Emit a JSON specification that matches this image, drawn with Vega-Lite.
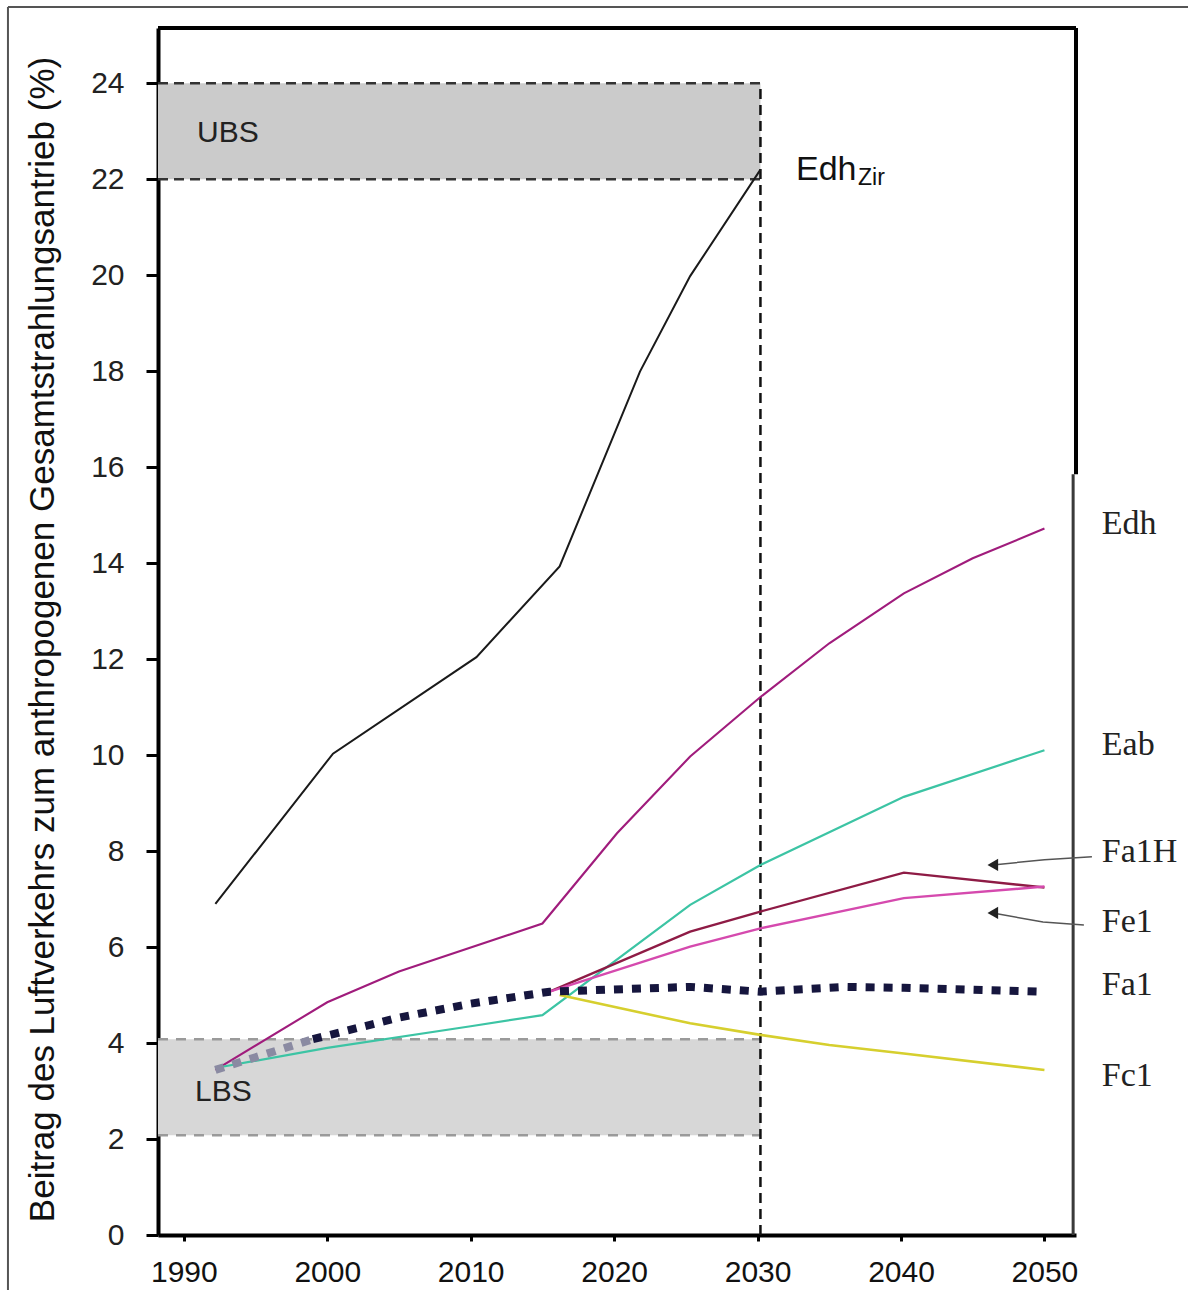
{
  "$schema": "https://vega.github.io/schema/vega-lite/v6.json",
  "width": 918,
  "height": 1207,
  "autosize": {"type": "none"},
  "padding": {"left": 158, "top": 28, "right": 112, "bottom": 55},
  "background": "white",
  "config": {"view": {"stroke": null}, "font": "Liberation Sans"},
  "datasets": {
    "series": [
      {"s": "Edh_Zir", "year": 1992.2, "v": 6.9},
      {"s": "Edh_Zir", "year": 2000.4, "v": 10.03},
      {"s": "Edh_Zir", "year": 2010.4, "v": 12.04},
      {"s": "Edh_Zir", "year": 2016.2, "v": 13.93},
      {"s": "Edh_Zir", "year": 2021.8, "v": 17.99},
      {"s": "Edh_Zir", "year": 2025.3, "v": 19.98},
      {"s": "Edh_Zir", "year": 2030.2, "v": 22.2},
      {"s": "Edh", "year": 1992.2, "v": 3.44},
      {"s": "Edh", "year": 2000.0, "v": 4.85},
      {"s": "Edh", "year": 2005.0, "v": 5.49},
      {"s": "Edh", "year": 2015.0, "v": 6.49},
      {"s": "Edh", "year": 2020.2, "v": 8.37},
      {"s": "Edh", "year": 2025.3, "v": 9.97},
      {"s": "Edh", "year": 2030.2, "v": 11.21},
      {"s": "Edh", "year": 2035.0, "v": 12.33},
      {"s": "Edh", "year": 2040.2, "v": 13.37},
      {"s": "Edh", "year": 2045.0, "v": 14.1},
      {"s": "Edh", "year": 2050.0, "v": 14.72},
      {"s": "Eab", "year": 1992.2, "v": 3.48},
      {"s": "Eab", "year": 2000.0, "v": 3.9},
      {"s": "Eab", "year": 2010.0, "v": 4.35},
      {"s": "Eab", "year": 2015.0, "v": 4.58},
      {"s": "Eab", "year": 2025.3, "v": 6.88},
      {"s": "Eab", "year": 2030.2, "v": 7.71},
      {"s": "Eab", "year": 2040.2, "v": 9.13},
      {"s": "Eab", "year": 2050.0, "v": 10.1},
      {"s": "Fa1H", "year": 2015.5, "v": 5.07},
      {"s": "Fa1H", "year": 2025.3, "v": 6.32},
      {"s": "Fa1H", "year": 2030.2, "v": 6.74},
      {"s": "Fa1H", "year": 2040.2, "v": 7.55},
      {"s": "Fa1H", "year": 2050.0, "v": 7.24},
      {"s": "Fe1", "year": 2015.5, "v": 5.07},
      {"s": "Fe1", "year": 2025.3, "v": 6.01},
      {"s": "Fe1", "year": 2030.2, "v": 6.39},
      {"s": "Fe1", "year": 2040.2, "v": 7.02},
      {"s": "Fe1", "year": 2050.0, "v": 7.26},
      {"s": "Fc1", "year": 2016.2, "v": 5.0},
      {"s": "Fc1", "year": 2025.3, "v": 4.41},
      {"s": "Fc1", "year": 2030.2, "v": 4.17},
      {"s": "Fc1", "year": 2035.0, "v": 3.96},
      {"s": "Fc1", "year": 2040.2, "v": 3.78},
      {"s": "Fc1", "year": 2050.0, "v": 3.44},
      {"s": "Fa1_LBS", "year": 1992.2, "v": 3.44},
      {"s": "Fa1_LBS", "year": 1999.0, "v": 4.08},
      {"s": "Fa1", "year": 1999.0, "v": 4.08},
      {"s": "Fa1", "year": 2005.0, "v": 4.53},
      {"s": "Fa1", "year": 2010.0, "v": 4.82},
      {"s": "Fa1", "year": 2015.5, "v": 5.07},
      {"s": "Fa1", "year": 2025.3, "v": 5.17},
      {"s": "Fa1", "year": 2030.2, "v": 5.07},
      {"s": "Fa1", "year": 2036.0, "v": 5.17},
      {"s": "Fa1", "year": 2040.2, "v": 5.15},
      {"s": "Fa1", "year": 2049.6, "v": 5.07}
    ]
  },
  "layer": [
    {
      "data": {"values": [
        {"band": "UBS", "x1": 1988.2, "x2": 2030.2, "y1": 22, "y2": 24}
      ]},
      "mark": {"type": "rect", "color": "#CBCBCB"},
      "encoding": {
        "x": {"field": "x1", "type": "quantitative", "scale": {"domain": [1988.2, 2052.2], "nice": false, "zero": false},
          "axis": {"values": [1990, 2000, 2010, 2020, 2030, 2040, 2050], "format": "d", "title": null, "grid": false,
            "labelFontSize": 30, "labelColor": "#111111", "labelFont": "Liberation Sans", "tickSize": 6, "tickWidth": 3, "tickColor": "#000000",
            "domainColor": "#000000", "domainWidth": 4, "labelPadding": 16, "labelFlush": false}},
        "x2": {"field": "x2"},
        "y": {"field": "y1", "type": "quantitative", "scale": {"domain": [0, 25.15], "nice": false, "zero": false},
          "axis": {"values": [0, 2, 4, 6, 8, 10, 12, 14, 16, 18, 20, 22, 24], "grid": false,
            "title": "Beitrag des Luftverkehrs zum anthropogenen Gesamtstrahlungsantrieb (%)",
            "titleFontSize": 35, "titleFontWeight": "normal", "titleColor": "#111111", "titleFont": "Liberation Sans",
            "titleX": -116, "titleY": 611, "titleAngle": -90, "titleAlign": "center", "titleBaseline": "middle",
            "labelFontSize": 30, "labelColor": "#222222", "labelFont": "Liberation Sans", "tickSize": 12, "tickWidth": 3, "tickColor": "#000000",
            "domainColor": "#000000", "domainWidth": 4, "labelPadding": 22, "labelFlush": false}},
        "y2": {"field": "y2"}
      }
    },
    {
      "data": {"values": [
        {"band": "LBS", "x1": 1988.2, "x2": 2030.2, "y1": 2.08, "y2": 4.08}
      ]},
      "mark": {"type": "rect", "color": "#D7D7D7"},
      "encoding": {
        "x": {"field": "x1", "type": "quantitative", "scale": {"domain": [1988.2, 2052.2], "nice": false, "zero": false}},
        "x2": {"field": "x2"},
        "y": {"field": "y1", "type": "quantitative", "scale": {"domain": [0, 25.15], "nice": false, "zero": false}},
        "y2": {"field": "y2"}
      }
    },
    {
      "data": {"values": [
        {"x1": 1988.2, "x2": 2030.2, "y1": 24, "y2": 24},
        {"x1": 1988.2, "x2": 2030.2, "y1": 22, "y2": 22}
      ]},
      "mark": {"type": "rule", "color": "#333333", "strokeWidth": 2.5, "strokeDash": [10, 6]},
      "encoding": {
        "x": {"field": "x1", "type": "quantitative", "scale": {"domain": [1988.2, 2052.2], "nice": false, "zero": false}},
        "x2": {"field": "x2"},
        "y": {"field": "y1", "type": "quantitative", "scale": {"domain": [0, 25.15], "nice": false, "zero": false}},
        "y2": {"field": "y2"}
      }
    },
    {
      "data": {"values": [
        {"x1": 1988.2, "x2": 2030.2, "y1": 4.08, "y2": 4.08},
        {"x1": 1988.2, "x2": 2030.2, "y1": 2.08, "y2": 2.08}
      ]},
      "mark": {"type": "rule", "color": "#9A9A9A", "strokeWidth": 2.5, "strokeDash": [10, 8]},
      "encoding": {
        "x": {"field": "x1", "type": "quantitative", "scale": {"domain": [1988.2, 2052.2], "nice": false, "zero": false}},
        "x2": {"field": "x2"},
        "y": {"field": "y1", "type": "quantitative", "scale": {"domain": [0, 25.15], "nice": false, "zero": false}},
        "y2": {"field": "y2"}
      }
    },
    {
      "data": {"values": [
        {"x1": 2030.2, "x2": 2030.2, "y1": 0, "y2": 24}
      ]},
      "mark": {"type": "rule", "color": "#111111", "strokeWidth": 2.5, "strokeDash": [10, 6]},
      "encoding": {
        "x": {"field": "x1", "type": "quantitative", "scale": {"domain": [1988.2, 2052.2], "nice": false, "zero": false}},
        "x2": {"field": "x2"},
        "y": {"field": "y1", "type": "quantitative", "scale": {"domain": [0, 25.15], "nice": false, "zero": false}},
        "y2": {"field": "y2"}
      }
    },
    {
      "data": {"name": "series"},
      "transform": [{"filter": "datum.s !== 'Fa1' && datum.s !== 'Fa1_LBS'"}],
      "mark": {"type": "line"},
      "encoding": {
        "x": {"field": "year", "type": "quantitative", "scale": {"domain": [1988.2, 2052.2], "nice": false, "zero": false}},
        "y": {"field": "v", "type": "quantitative", "scale": {"domain": [0, 25.15], "nice": false, "zero": false}},
        "color": {"field": "s", "type": "nominal", "legend": null,
          "scale": {"domain": ["Edh_Zir", "Edh", "Eab", "Fa1H", "Fe1", "Fc1", "Fa1", "Fa1_LBS"],
                    "range": ["#1A1A1A", "#A01C7C", "#3CC4A4", "#8E1B45", "#D54AAE", "#D6CF2E", "#16163E", "#8A8AA2"]}},
        "strokeWidth": {"field": "s", "type": "nominal", "legend": null,
          "scale": {"domain": ["Edh_Zir", "Edh", "Eab", "Fa1H", "Fe1", "Fc1", "Fa1", "Fa1_LBS"],
                    "range": [2, 2.8, 2.2, 3, 2.2, 2.2, 8, 8]}}
      }
    },
    {
      "data": {"name": "series"},
      "transform": [{"filter": "datum.s === 'Fa1' || datum.s === 'Fa1_LBS'"}],
      "mark": {"type": "line", "strokeDash": [9, 9], "strokeWidth": 8},
      "encoding": {
        "x": {"field": "year", "type": "quantitative", "scale": {"domain": [1988.2, 2052.2], "nice": false, "zero": false}},
        "y": {"field": "v", "type": "quantitative", "scale": {"domain": [0, 25.15], "nice": false, "zero": false}},
        "color": {"field": "s", "type": "nominal", "legend": null,
          "scale": {"domain": ["Edh_Zir", "Edh", "Eab", "Fa1H", "Fe1", "Fc1", "Fa1", "Fa1_LBS"],
                    "range": ["#1A1A1A", "#A01C7C", "#3CC4A4", "#8E1B45", "#D54AAE", "#D6CF2E", "#16163E", "#8A8AA2"]}}
      }
    },
    {
      "data": {"values": [
        {"x1": 1988.2, "x2": 2052.2, "y1": 25.15, "y2": 25.15},
        {"x1": 2052.2, "x2": 2052.2, "y1": 15.85, "y2": 25.15}
      ]},
      "mark": {"type": "rule", "color": "#000000", "strokeWidth": 4},
      "encoding": {
        "x": {"field": "x1", "type": "quantitative", "scale": {"domain": [1988.2, 2052.2], "nice": false, "zero": false}},
        "x2": {"field": "x2"},
        "y": {"field": "y1", "type": "quantitative", "scale": {"domain": [0, 25.15], "nice": false, "zero": false}},
        "y2": {"field": "y2"}
      }
    },
    {
      "data": {"values": [
        {"x1": 2052.0, "x2": 2052.0, "y1": 0, "y2": 15.85}
      ]},
      "mark": {"type": "rule", "color": "#3A3A3A", "strokeWidth": 3},
      "encoding": {
        "x": {"field": "x1", "type": "quantitative", "scale": {"domain": [1988.2, 2052.2], "nice": false, "zero": false}},
        "x2": {"field": "x2"},
        "y": {"field": "y1", "type": "quantitative", "scale": {"domain": [0, 25.15], "nice": false, "zero": false}},
        "y2": {"field": "y2"}
      }
    },
    {
      "data": {"values": [
        {"x1": 1977.74, "x2": 1977.74, "y1": -1.2, "y2": 25.59},
        {"x1": 1977.74, "x2": 2060.2, "y1": 25.59, "y2": 25.59}
      ]},
      "mark": {"type": "rule", "color": "#555555", "strokeWidth": 2},
      "encoding": {
        "x": {"field": "x1", "type": "quantitative", "scale": {"domain": [1988.2, 2052.2], "nice": false, "zero": false}},
        "x2": {"field": "x2"},
        "y": {"field": "y1", "type": "quantitative", "scale": {"domain": [0, 25.15], "nice": false, "zero": false}},
        "y2": {"field": "y2"}
      }
    },
    {
      "data": {"values": [
        {"arrow": "Fa1H", "x": 2053.31, "y": 7.88, "o": 0},
        {"arrow": "Fa1H", "x": 2050.0, "y": 7.82, "o": 1},
        {"arrow": "Fa1H", "x": 2046.4, "y": 7.71, "o": 2},
        {"arrow": "Fe1", "x": 2052.75, "y": 6.46, "o": 0},
        {"arrow": "Fe1", "x": 2049.9, "y": 6.52, "o": 1},
        {"arrow": "Fe1", "x": 2046.4, "y": 6.71, "o": 2}
      ]},
      "mark": {"type": "line", "color": "#555555", "strokeWidth": 1.5},
      "encoding": {
        "x": {"field": "x", "type": "quantitative", "scale": {"domain": [1988.2, 2052.2], "nice": false, "zero": false}},
        "y": {"field": "y", "type": "quantitative", "scale": {"domain": [0, 25.15], "nice": false, "zero": false}},
        "detail": {"field": "arrow", "type": "nominal"},
        "order": {"field": "o", "type": "quantitative"}
      }
    },
    {
      "data": {"values": [
        {"arrow": "Fa1H", "x": 2046.4, "y": 7.71},
        {"arrow": "Fe1", "x": 2046.4, "y": 6.71}
      ]},
      "mark": {"type": "point", "shape": "triangle-left", "filled": true, "size": 150, "color": "#222222", "opacity": 1},
      "encoding": {
        "x": {"field": "x", "type": "quantitative", "scale": {"domain": [1988.2, 2052.2], "nice": false, "zero": false}},
        "y": {"field": "y", "type": "quantitative", "scale": {"domain": [0, 25.15], "nice": false, "zero": false}}
      }
    },
    {
      "data": {"values": [
        {"t": "UBS", "x": 1990.92, "y": 22.96},
        {"t": "LBS", "x": 1990.78, "y": 2.98}
      ]},
      "mark": {"type": "text", "align": "left", "baseline": "middle", "fontSize": 30, "font": "Liberation Sans", "color": "#222222"},
      "encoding": {
        "x": {"field": "x", "type": "quantitative", "scale": {"domain": [1988.2, 2052.2], "nice": false, "zero": false}},
        "y": {"field": "y", "type": "quantitative", "scale": {"domain": [0, 25.15], "nice": false, "zero": false}},
        "text": {"field": "t"}
      }
    },
    {
      "data": {"values": [
        {"t": "Edh", "x": 2032.68, "y": 21.98}
      ]},
      "mark": {"type": "text", "align": "left", "baseline": "alphabetic", "fontSize": 34, "font": "Liberation Sans", "color": "#111111"},
      "encoding": {
        "x": {"field": "x", "type": "quantitative", "scale": {"domain": [1988.2, 2052.2], "nice": false, "zero": false}},
        "y": {"field": "y", "type": "quantitative", "scale": {"domain": [0, 25.15], "nice": false, "zero": false}},
        "text": {"field": "t"}
      }
    },
    {
      "data": {"values": [
        {"t": "Zir", "x": 2037.0, "y": 21.88}
      ]},
      "mark": {"type": "text", "align": "left", "baseline": "alphabetic", "fontSize": 23, "font": "Liberation Sans", "color": "#111111"},
      "encoding": {
        "x": {"field": "x", "type": "quantitative", "scale": {"domain": [1988.2, 2052.2], "nice": false, "zero": false}},
        "y": {"field": "y", "type": "quantitative", "scale": {"domain": [0, 25.15], "nice": false, "zero": false}},
        "text": {"field": "t"}
      }
    },
    {
      "data": {"values": [
        {"t": "Edh", "x": 2054.0, "y": 14.82},
        {"t": "Eab", "x": 2054.0, "y": 10.21},
        {"t": "Fa1H", "x": 2054.0, "y": 7.98},
        {"t": "Fe1", "x": 2054.0, "y": 6.52},
        {"t": "Fa1", "x": 2054.0, "y": 5.21},
        {"t": "Fc1", "x": 2054.0, "y": 3.32}
      ]},
      "mark": {"type": "text", "align": "left", "baseline": "middle", "fontSize": 34, "font": "Liberation Serif", "color": "#222222"},
      "encoding": {
        "x": {"field": "x", "type": "quantitative", "scale": {"domain": [1988.2, 2052.2], "nice": false, "zero": false}},
        "y": {"field": "y", "type": "quantitative", "scale": {"domain": [0, 25.15], "nice": false, "zero": false}},
        "text": {"field": "t"}
      }
    }
  ]
}
